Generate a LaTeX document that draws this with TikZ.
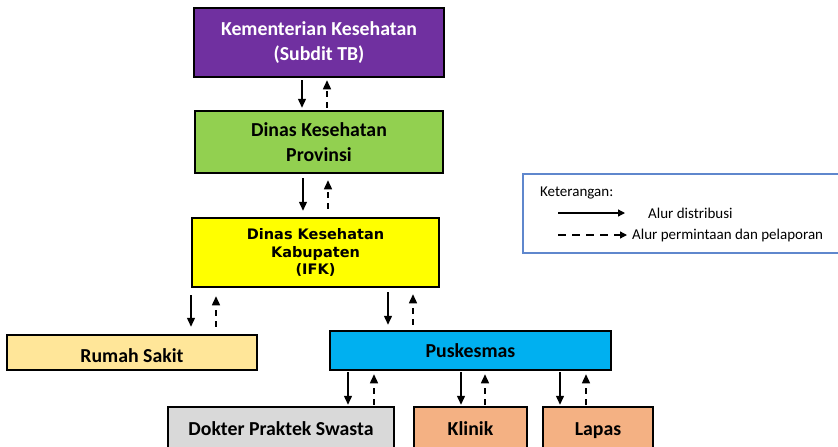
\documentclass[tikz,border=0pt]{standalone}
\usepackage{fontspec}
\setmainfont{Carlito}
\newfontfamily\kabfont{DejaVu Sans}
\usetikzlibrary{arrows.meta}
\definecolor{cpurple}{HTML}{7030A0}
\definecolor{cgreen}{HTML}{92D050}
\definecolor{cyellow}{HTML}{FFFF00}
\definecolor{crs}{HTML}{FFE699}
\definecolor{cpusk}{HTML}{00B0F0}
\definecolor{cgray}{HTML}{D9D9D9}
\definecolor{corange}{HTML}{F4B183}
\definecolor{clegend}{RGB}{95,135,205}
\tikzset{
  box/.style={draw=black, line width=2.5pt, rectangle, inner sep=0pt, align=center, font=\fontsize{19.8}{25.5}\selectfont\bfseries},
  onebox/.style={box, text height=13pt, text depth=0pt},
  sol/.style={line width=1.4pt, -{Triangle[width=8pt,length=9pt]}},
  dsh/.style={line width=1.4pt, dash pattern=on 6pt off 5pt, -{Triangle[width=8pt,length=9pt]}},
  leg/.style={font=\fontsize{15}{18}\selectfont, anchor=west, inner sep=0pt}
}
\begin{document}
\begin{tikzpicture}[x=1pt,y=-1pt]
\useasboundingbox (0,0) rectangle (838,447);
\node[box, fill=cpurple, text=white, minimum width=250pt, minimum height=69pt] (kem) at (319,42.5) {Kementerian Kesehatan\\(Subdit TB)};
\node[box, fill=cgreen, minimum width=248pt, minimum height=62pt] (prov) at (319,142) {Dinas Kesehatan\\Provinsi};
\node[box, fill=cyellow, minimum width=247pt, minimum height=69pt, font=\kabfont\bfseries\fontsize{14.5}{17.5}\selectfont] (kab) at (315.5,252.5) {Dinas Kesehatan\\Kabupaten\\(IFK)};
\node[onebox, text height=19pt, fill=crs, minimum width=250pt, minimum height=35pt] (rs) at (132,352.5) {Rumah Sakit};
\node[onebox, fill=cpusk, minimum width=281pt, minimum height=39pt] (pusk) at (470.5,350.5) {Puskesmas};
\node[onebox, fill=cgray, minimum width=226pt, minimum height=43pt] (dps) at (281,428.5) {Dokter Praktek Swasta};
\node[onebox, fill=corange, minimum width=113pt, minimum height=43pt] (kli) at (470.5,428.5) {Klinik};
\node[onebox, fill=corange, minimum width=110pt, minimum height=43pt] (lap) at (598,428.5) {Lapas};
% arrows
\draw[sol, shorten <=2pt, shorten >=2pt] (kem.south -| 302,0) -- (prov.north -| 302,0);
\draw[dsh, shorten <=2pt, shorten >=2pt] (prov.north -| 327,0) -- (kem.south -| 327,0);
\draw[sol, shorten <=4pt, shorten >=6pt] (prov.south -| 303,0) -- (kab.north -| 303,0);
\draw[dsh, shorten <=8pt, shorten >=6pt] (kab.north -| 328,0) -- (prov.south -| 328,0);
\draw[sol, shorten <=7pt, shorten >=7pt] (kab.south -| 191,0) -- (rs.north -| 191,0);
\draw[dsh, shorten <=7pt, shorten >=8pt] (rs.north -| 216,0) -- (kab.south -| 216,0);
\draw[sol, shorten <=4pt, shorten >=5pt] (kab.south -| 388,0) -- (pusk.north -| 388,0);
\draw[dsh, shorten <=5pt, shorten >=6pt] (pusk.north -| 413,0) -- (kab.south -| 413,0);
\draw[sol, shorten <=1pt, shorten >=1pt] (pusk.south -| 348,0) -- (dps.north -| 348,0);
\draw[dsh, shorten <=1pt, shorten >=3pt] (dps.north -| 374,0) -- (pusk.south -| 374,0);
\draw[sol, shorten <=1pt, shorten >=1pt] (pusk.south -| 461,0) -- (kli.north -| 461,0);
\draw[dsh, shorten <=1pt, shorten >=3pt] (kli.north -| 485,0) -- (pusk.south -| 485,0);
\draw[sol, shorten <=1pt, shorten >=1pt] (pusk.south -| 560,0) -- (lap.north -| 560,0);
\draw[dsh, shorten <=1pt, shorten >=3pt] (lap.north -| 586,0) -- (pusk.south -| 586,0);
% legend
\draw[clegend, line width=1.2pt] (523,174) rectangle (850,253);
\node[leg] (ket) at (540,193) {Keterangan:};
\coordinate (s1) at (558,213);
\coordinate (e1) at (625,213);
\coordinate (s2) at (558,235);
\coordinate (e2) at (627,235);
\draw[line width=1.3pt, -{Triangle[width=7pt,length=7pt]}] (s1) -- (e1);
\draw[line width=1.3pt, dash pattern=on 8pt off 6pt, -{Triangle[width=7pt,length=7pt]}] (s2) -- (e2);
\node[leg] (l1) at (648,213) {Alur distribusi};
\node[leg] (l2) at (632,235) {Alur permintaan dan pelaporan};
\end{tikzpicture}
\end{document}
